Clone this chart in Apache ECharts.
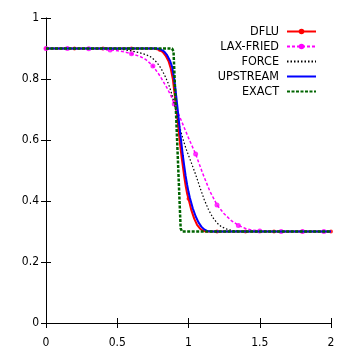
<!DOCTYPE html>
<html><head><meta charset="utf-8">
<script src="https://cdn.jsdelivr.net/npm/echarts@6/dist/echarts.min.js"></script>
<style>html,body{margin:0;padding:0;background:#fff}#c{width:354px;height:354px}</style>
</head><body><div id="c"></div>
<script>
const xTicks = [0, 0.5, 1, 1.5, 2];
const yTicks = [0, 0.2, 0.4, 0.6, 0.8, 1];
const seriesNames = ['DFLU', 'LAX-FRIED', 'FORCE', 'UPSTREAM', 'EXACT'];

const dfluX = [0,0.2,0.4,0.6,0.76,0.8,0.82,0.84,0.86,0.875,0.89,0.9,0.91,0.92,0.93,0.94,0.95,0.96,0.97,0.98,0.99,1.0,1.02,1.04,1.06,1.08,1.1,1.12,1.2,1.4,1.6,1.8,2.0];
const dfluY = [0.9,0.9,0.9,0.9,0.9,0.895,0.888,0.876,0.858,0.835,0.8,0.76,0.72,0.68,0.635,0.59,0.55,0.515,0.48,0.45,0.425,0.407,0.37,0.342,0.322,0.31,0.303,0.3,0.3,0.3,0.3,0.3,0.3];
const dfluMarkX = [0,0.2,0.4,0.6,0.8,1.0,1.2,1.4,1.6,1.8,2.0];
const dfluMarkY = [0.9,0.9,0.9,0.9,0.895,0.407,0.3,0.3,0.3,0.3,0.3];

const laxX = [0,0.15,0.3,0.4,0.45,0.5,0.55,0.6,0.66,0.7,0.75,0.8,0.85,0.88,0.9,0.95,1.0,1.05,1.1,1.15,1.2,1.25,1.3,1.35,1.4,1.45,1.5,1.6,1.65,1.8,1.95,2.0];
const laxY = [0.9,0.9,0.899,0.897,0.895,0.893,0.889,0.883,0.874,0.864,0.843,0.81,0.77,0.742,0.718,0.663,0.607,0.554,0.49,0.432,0.387,0.358,0.336,0.32,0.31,0.304,0.302,0.3,0.3,0.3,0.3,0.3];
const laxMarkX = [0,0.15,0.3,0.45,0.6,0.75,0.9,1.05,1.2,1.35,1.5,1.65,1.8,1.95];
const laxMarkY = [0.9,0.9,0.899,0.895,0.883,0.843,0.718,0.554,0.387,0.32,0.302,0.3,0.3,0.3];

const forceX = [0,0.45,0.5,0.55,0.6,0.65,0.7,0.73,0.76,0.78,0.8,0.82,0.84,0.86,0.88,0.9,0.92,0.94,0.96,0.98,1.0,1.02,1.05,1.08,1.11,1.14,1.17,1.2,1.23,1.26,1.3,1.35,1.4,2.0];
const forceY = [0.9,0.9,0.898,0.896,0.892,0.887,0.88,0.874,0.863,0.853,0.84,0.824,0.805,0.783,0.755,0.72,0.68,0.64,0.605,0.575,0.55,0.525,0.487,0.445,0.405,0.372,0.346,0.328,0.316,0.309,0.304,0.301,0.3,0.3];

const upX = [0,0.78,0.81,0.83,0.85,0.87,0.885,0.9,0.91,0.92,0.93,0.94,0.95,0.96,0.97,0.98,0.99,1.0,1.01,1.03,1.05,1.07,1.09,1.11,1.13,1.16,2.0];
const upY = [0.9,0.9,0.896,0.89,0.878,0.86,0.84,0.8,0.76,0.718,0.675,0.63,0.59,0.55,0.515,0.482,0.454,0.43,0.41,0.376,0.35,0.33,0.316,0.307,0.302,0.3,0.3];

const exactX = [0,0.885,0.895,0.92,0.945,0.955,2.0];
const exactY = [0.9,0.9,0.89,0.6,0.31,0.3,0.3];

const zip = (xs, ys) => xs.map((x, i) => [x, ys[i]]);
const FONT = "'Liberation Sans Narrow', 'Arial Narrow', 'DejaVu Sans Condensed', 'Liberation Sans', sans-serif";

const chart = echarts.init(document.getElementById('c'), null, {renderer: 'canvas'});
const axisCommon = {
  type: 'value',
  axisTick: {show: true, inside: true, length: 5, lineStyle: {color: '#000', width: 1}},
  splitLine: {show: false},
};
const noMark = {opacity: 0};
chart.setOption({
  animation: false,
  backgroundColor: '#fff',
  grid: {left: 46, right: 23, top: 18, bottom: 31, containLabel: false},
  xAxis: [
    Object.assign({}, axisCommon, {position: 'bottom', min: xTicks[0], max: xTicks[xTicks.length-1], interval: 0.5,
      axisLine: {show: true, lineStyle: {color: '#555', width: 1}},
      axisLabel: {color: '#000', fontFamily: FONT, fontSize: 12, margin: 14}}),
    Object.assign({}, axisCommon, {position: 'top', min: xTicks[0], max: xTicks[xTicks.length-1], interval: 0.5,
      axisLine: {show: true, lineStyle: {color: '#000', width: 1}},
      axisLabel: {show: false}})
  ],
  yAxis: [
    Object.assign({}, axisCommon, {position: 'left', min: yTicks[0], max: yTicks[yTicks.length-1], interval: 0.2,
      axisLine: {show: true, lineStyle: {color: '#888', width: 1}},
      axisLabel: {color: '#000', fontFamily: FONT, fontSize: 12, margin: 7,
        formatter: v => String(Math.round(v*10)/10)}}),
    Object.assign({}, axisCommon, {position: 'right', min: yTicks[0], max: yTicks[yTicks.length-1], interval: 0.2,
      axisLine: {show: true, lineStyle: {color: '#000', width: 1}},
      axisLabel: {show: false}})
  ],
  legend: {
    data: [
      {name: seriesNames[0]},
      {name: seriesNames[1]},
      {name: seriesNames[2], itemStyle: noMark},
      {name: seriesNames[3], itemStyle: noMark},
      {name: seriesNames[4], itemStyle: noMark}
    ],
    orient: 'vertical',
    align: 'right',
    right: 37,
    top: 25,
    padding: 0,
    itemWidth: 29,
    itemHeight: 7,
    itemGap: 2,
    textStyle: {fontFamily: FONT, fontSize: 12.5, color: '#000', lineHeight: 13, padding: [0, 3, 0, 0]},
    selectedMode: false
  },
  series: [
    {name: seriesNames[0], type: 'line', data: zip(dfluX, dfluY), symbol: 'circle', symbolSize: 4, showSymbol: false,
      lineStyle: {color: '#ff0000', width: 2}, itemStyle: {color: '#ff0000'}, z: 2},
    {name: 'dfluMarks', type: 'scatter', data: zip(dfluMarkX, dfluMarkY), symbol: 'circle', symbolSize: 4,
      itemStyle: {color: '#ff0000'}, z: 2},
    {name: seriesNames[1], type: 'line', data: zip(laxX, laxY), symbol: 'circle', symbolSize: 5, showSymbol: false,
      lineStyle: {color: '#ff00ff', width: 1.5, type: [3, 2]}, itemStyle: {color: '#ff00ff'}, z: 3},
    {name: 'laxMarks', type: 'scatter', data: zip(laxMarkX, laxMarkY), symbol: 'circle', symbolSize: 5,
      itemStyle: {color: '#ff00ff'}, z: 3},
    {name: seriesNames[2], type: 'line', data: zip(forceX, forceY), symbol: 'none',
      lineStyle: {color: '#000000', width: 1.2, type: [1.5, 2]}, itemStyle: {color: '#000'}, z: 4},
    {name: seriesNames[3], type: 'line', data: zip(upX, upY), symbol: 'none',
      lineStyle: {color: '#0000ff', width: 2}, itemStyle: {color: '#0000ff'}, z: 5},
    {name: seriesNames[4], type: 'line', data: zip(exactX, exactY), symbol: 'none',
      lineStyle: {color: '#006400', width: 2.5, type: [3, 1.5]}, itemStyle: {color: '#006400'}, z: 6}
  ]
});
</script>
</body></html>
